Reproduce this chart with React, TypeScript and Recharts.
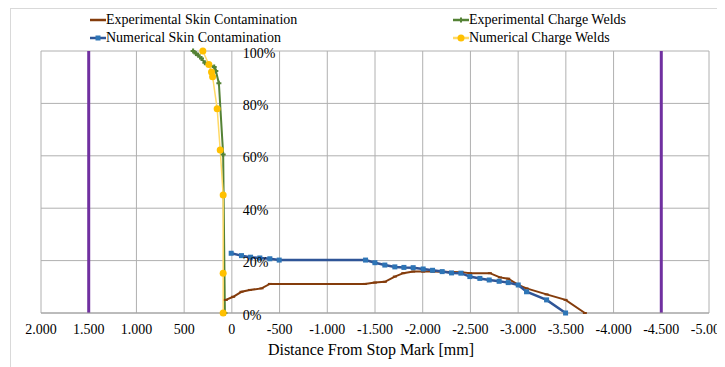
import React from 'react';
import { ComposedChart, Line, XAxis, YAxis, CartesianGrid, ReferenceLine } from 'recharts';

// [distance mm, share %]
const expSkin = [
  [63, 5.0], [-14, 6.2], [-101, 8.1], [-189, 8.8], [-311, 9.4], [-398, 11.1], [-1394, 11.1],
  [-1499, 11.6], [-1603, 11.9], [-1708, 13.9], [-1796, 15.2], [-1900, 15.8], [-2005, 15.8],
  [-2110, 15.8], [-2407, 15.6], [-2494, 15.2], [-2704, 15.2], [-2809, 13.6], [-2896, 13.1],
  [-3001, 10.7], [-3088, 9.4], [-3298, 7.1], [-3497, 5.0], [-3699, 0],
];
const numSkin = [
  [7, 22.8], [-101, 21.9], [-196, 21.3], [-293, 21.0], [-398, 20.7], [-496, 20.2], [-1401, 20.2],
  [-1499, 19.2], [-1603, 18.3], [-1708, 17.6], [-1803, 17.4], [-1900, 17.3], [-2005, 16.8],
  [-2103, 16.3], [-2204, 15.8], [-2302, 15.3], [-2400, 15.2], [-2494, 13.9], [-2599, 13.2],
  [-2697, 12.6], [-2801, 12.1], [-2896, 11.6], [-3001, 10.7], [-3088, 8.1], [-3298, 5.0], [-3497, 0],
];
const expWelds = [
  [406, 100], [377, 99], [353, 98.4], [318, 97.1], [283, 95.5], [185, 93.9], [168, 92.4],
  [136, 87.7], [91, 60.5], [73, 0],
];
const numWelds = [
  [304, 100], [241, 94.8], [213, 92], [202, 90.2], [154, 78], [122, 62.2], [91, 45], [91, 15.2], [91, 0],
];

const xTicks = [2000, 1500, 1000, 500, 0, -500, -1000, -1500, -2000, -2500, -3000, -3500, -4000, -4500, -5000];
const yTicks = [0, 20, 40, 60, 80, 100];
const limitLines = [1500, -4500];

const W = 716;
const H = 360;
const M = { top: 42, right: 18, left: 29, bottom: 6 };
const FONT = '"Liberation Serif", Tinos, "DejaVu Serif", "Noto Serif", "Times New Roman", Times, serif';

const toRows = (pts: number[][]) => pts.map(([x, y]) => ({ x, y }));

const fmtX = (v: number) => {
  const a = Math.abs(v);
  const s = a >= 1000 ? `${Math.floor(a / 1000)}.${String(a % 1000).padStart(3, '0')}` : String(a);
  return v < 0 ? `-${s}` : s;
};

const plotLeft = M.left + 1;
const plotW = W - plotLeft - M.right;
const zeroX = plotLeft + (plotW * xTicks[0]) / (xTicks[0] - xTicks[xTicks.length - 1]);

const renderYTick = (props: any) => (
  <text
    key={`yt-${props.payload.value}`}
    x={zeroX + 11}
    y={props.y + 2}
    dominantBaseline="central"
    textAnchor="start"
    fontSize={14}
    fontFamily={FONT}
    fill="#000"
  >
    {`${props.payload.value}%`}
  </text>
);

const SquareDot = ({ cx, cy }: any) => <rect x={cx - 2.5} y={cy - 2.5} width={5} height={5} fill="#2E75B6" />;
const SmallDot = (color: string) => ({ cx, cy }: any) => <rect x={cx - 2} y={cy - 1} width={4} height={2} fill={color} />;
const PlusDot = ({ cx, cy }: any) => (
  <path d={`M${cx - 2.5},${cy}L${cx + 2.5},${cy}M${cx},${cy - 2.5}L${cx},${cy + 2.5}`} stroke="#548235" strokeWidth={2} />
);
const CircleDot = ({ cx, cy }: any) => <circle cx={cx} cy={cy} r={3.5} fill="#FFC000" />;

const legendItems = [
  { name: 'Experimental Skin Contamination', line: '#843C0C', marker: 'dash', left: 79, top: 2 },
  { name: 'Experimental Charge Welds', line: '#548235', marker: 'plus', left: 442, top: 2 },
  { name: 'Numerical Skin Contamination', line: '#2F5597', marker: 'square', left: 79, top: 20 },
  { name: 'Numerical Charge Welds', line: '#FFD966', marker: 'circle', left: 442, top: 20 },
];

const LegendIcon = ({ line, marker }: { line: string; marker: string }) => (
  <svg width={16} height={18} style={{ display: 'block' }}>
    <line x1={0} y1={9} x2={16} y2={9} stroke={line} strokeWidth={2.5} />
    {marker === 'square' && <rect x={5.5} y={6.5} width={5} height={5} fill="#2E75B6" />}
    {marker === 'dash' && <rect x={6} y={8} width={4} height={2} fill="#843C0C" />}
    {marker === 'plus' && <path d="M5.5,9L10.5,9M8,6.5L8,11.5" stroke="#548235" strokeWidth={2} />}
    {marker === 'circle' && <circle cx={8} cy={9} r={3.5} fill="#FFC000" />}
  </svg>
);

export default function App() {
  return (
    <div style={{ position: 'relative', marginLeft: 2, width: W, height: H, border: '1px solid #d9d9d9', background: '#fff', fontFamily: FONT }}>
      {legendItems.map((it) => (
        <div
          key={it.name}
          style={{ position: 'absolute', left: it.left, top: it.top, display: 'flex', alignItems: 'center', height: 18, fontFamily: FONT, fontSize: 14, color: '#000', whiteSpace: 'nowrap' }}
        >
          <LegendIcon line={it.line} marker={it.marker} />
          <span>{it.name}</span>
        </div>
      ))}
      <ComposedChart width={W} height={H} margin={M} style={{ fontFamily: FONT }}>
        <CartesianGrid stroke="#b0b0b0" strokeWidth={1} />
        <XAxis
          dataKey="x"
          type="number"
          domain={[-5000, 2000]}
          ticks={xTicks}
          reversed
          allowDataOverflow
          tickFormatter={fmtX}
          tickLine={false}
          tickSize={0}
          tickMargin={11}
          axisLine={{ stroke: '#a0a0a0' }}
          height={50}
          tick={{ fontSize: 14, fontFamily: FONT, fill: '#000' }}
          label={{ value: 'Distance From Stop Mark [mm]', position: 'insideBottom', offset: 8, dx: -4, fontSize: 16, fontFamily: FONT, fill: '#000' }}
        />
        <YAxis
          dataKey="y"
          type="number"
          domain={[0, 100]}
          ticks={yTicks}
          width={1}
          axisLine={false}
          tickLine={false}
          tick={renderYTick}
        />
        {limitLines.map((v) => (
          <ReferenceLine key={v} x={v} stroke="#7030A0" strokeWidth={3} />
        ))}
        <Line data={toRows(expSkin)} dataKey="y" stroke="#843C0C" strokeWidth={2} dot={SmallDot('#843C0C')} isAnimationActive={false} />
        <Line data={toRows(expWelds)} dataKey="y" stroke="#548235" strokeWidth={2} dot={PlusDot} isAnimationActive={false} />
        <Line data={toRows(numSkin)} dataKey="y" stroke="#2F5597" strokeWidth={2.5} dot={SquareDot} isAnimationActive={false} />
        <Line data={toRows(numWelds)} dataKey="y" stroke="#FFD966" strokeWidth={1.5} dot={CircleDot} isAnimationActive={false} />
      </ComposedChart>
    </div>
  );
}
